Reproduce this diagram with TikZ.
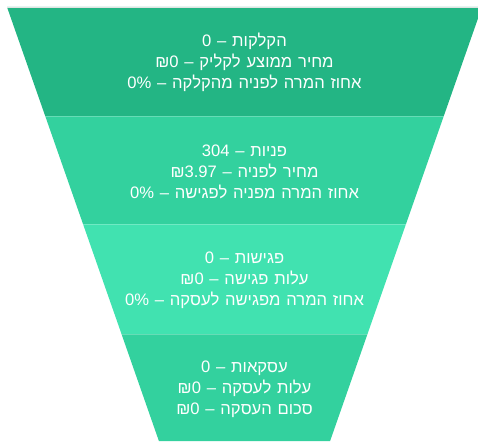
\documentclass[tikz,border=0pt]{standalone}
\usepackage{fontspec}
\setmainfont[Script=Hebrew,WordSpace=1.25]{Liberation Sans}
\TeXXeTstate=1
\newcommand\rtltext[1]{\beginR #1\endR}
\newcommand\ltrtext[1]{\beginL #1\endL{}}
\definecolor{stageA}{HTML}{23B584}
\definecolor{stageB}{HTML}{33D19E}
\definecolor{stageC}{HTML}{41E2B0}
\definecolor{stageD}{HTML}{33D19E}
\definecolor{topline}{HTML}{E2E2E2}
\tikzset{
  stagetext/.style={text=white, align=center, inner sep=0pt,
    font=\fontsize{16.6}{21}\selectfont},
  sepline/.style={draw=white, draw opacity=0.25, line width=1pt},
}
\begin{document}
\begin{tikzpicture}[x=1pt,y=-1pt]
\useasboundingbox (0,0) rectangle (478,441);
\begin{scope}
\clip (0,0) rectangle (478,441);
% funnel boundary coordinates
\coordinate (l0) at (7,7);     \coordinate (r0) at (482,7);
\coordinate (l1) at (45.2,116); \coordinate (r1) at (443.8,116);
\coordinate (l2) at (83,224);  \coordinate (r2) at (406,224);
\coordinate (l3) at (121.5,334); \coordinate (r3) at (367.5,334);
\coordinate (l4) at (158.9,441); \coordinate (r4) at (330.1,441);
\fill[stageA] (l0) -- (r0) -- (r1) -- (l1) -- cycle;
\fill[stageB] (l1) -- (r1) -- (r2) -- (l2) -- cycle;
\fill[stageC] (l2) -- (r2) -- (r3) -- (l3) -- cycle;
\fill[stageD] (l3) -- (r3) -- (r4) -- (l4) -- cycle;
\draw[topline, line width=1pt] ([yshift=-0.5pt]l0) -- ([yshift=-0.5pt]r0);
\draw[sepline] (l1) -- (r1);
\draw[sepline] (l2) -- (r2);
\draw[sepline] (l3) -- (r3);
\end{scope}
\node[stagetext] (clicks) at (244.5,62.5) {%
  \rtltext{הקלקות – \ltrtext{0}}\\
  \rtltext{מחיר ממוצע לקליק – \ltrtext{₪0}}\\
  \rtltext{אחוז המרה לפניה מהקלקה – \ltrtext{0\%}}};
\node[stagetext] (leads) at (244.5,172) {%
  \rtltext{פניות – \ltrtext{304}}\\
  \rtltext{מחיר לפניה – \ltrtext{₪3.97}}\\
  \rtltext{אחוז המרה מפניה לפגישה – \ltrtext{0\%}}};
\node[stagetext] (meetings) at (244.5,280.5) {%
  \rtltext{פגישות – \ltrtext{0}}\\
  \rtltext{עלות פגישה – \ltrtext{₪0}}\\
  \rtltext{אחוז המרה מפגישה לעסקה – \ltrtext{0\%}}};
\node[stagetext] (deals) at (244.5,389.5) {%
  \rtltext{עסקאות – \ltrtext{0}}\\
  \rtltext{עלות לעסקה – \ltrtext{₪0}}\\
  \rtltext{סכום העסקה – \ltrtext{₪0}}};
\end{tikzpicture}
\end{document}
